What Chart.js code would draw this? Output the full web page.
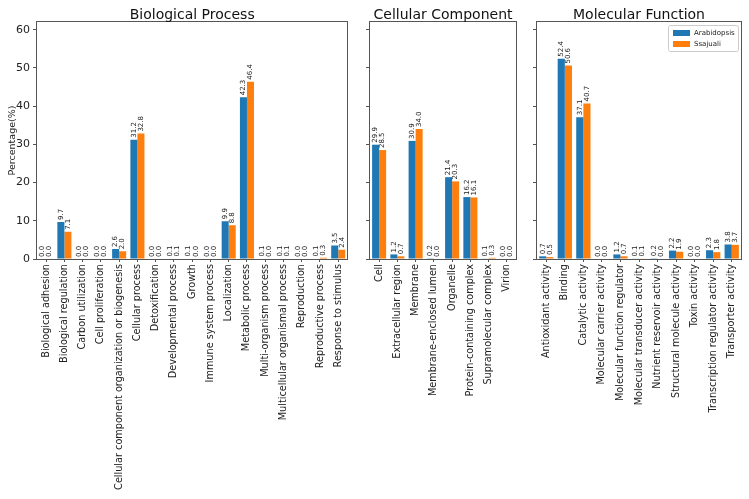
<!DOCTYPE html>
<html>
<head>
<meta charset="utf-8">
<script src="https://cdn.jsdelivr.net/npm/chart.js@4.4.0/dist/chart.umd.min.js"></script>
<style>
  body { margin: 0; background: #fff; }
  #wrap { position: relative; width: 749px; height: 499px; }
  canvas { position: absolute; top: 0; }
</style>
</head>
<body>
<div id="wrap">
  <canvas id="bpChart" width="352" height="499" style="left:0"></canvas>
  <canvas id="ccChart" width="160" height="499" style="left:362px"></canvas>
  <canvas id="mfChart" width="220" height="499" style="left:529px"></canvas>
</div>
<script>
const seriesNames = ['Arabidopsis', 'Ssajuali'];
const yTicks = [0, 10, 20, 30, 40, 50, 60];

const bpLabels = ['Biological adhesion', 'Biological regulation', 'Carbon utilization', 'Cell proliferation',
  'Cellular component organization or biogenesis', 'Cellular process', 'Detoxification', 'Developmental process',
  'Growth', 'Immune system process', 'Localization', 'Metabolic process', 'Multi-organism process',
  'Multicellular organismal process', 'Reproduction', 'Reproductive process', 'Response to stimulus'];
const bpArabidopsis = [0.0, 9.7, 0.0, 0.0, 2.6, 31.2, 0.0, 0.1, 0.1, 0.0, 9.9, 42.3, 0.1, 0.1, 0.0, 0.1, 3.5];
const bpSsajuali = [0.0, 7.1, 0.0, 0.0, 2.0, 32.8, 0.0, 0.1, 0.0, 0.0, 8.8, 46.4, 0.0, 0.1, 0.0, 0.3, 2.4];

const ccLabels = ['Cell', 'Extracellular region', 'Membrane', 'Membrane-enclosed lumen', 'Organelle',
  'Protein-containing complex', 'Supramolecular complex', 'Virion'];
const ccArabidopsis = [29.9, 1.2, 30.9, 0.2, 21.4, 16.2, 0.1, 0.0];
const ccSsajuali = [28.5, 0.7, 34.0, 0.0, 20.3, 16.1, 0.3, 0.0];

const mfLabels = ['Antioxidant activity', 'Binding', 'Catalytic activity', 'Molecular carrier activity',
  'Molecular function regulator', 'Molecular transducer activity', 'Nutrient reservoir activity',
  'Structural molecule activity', 'Toxin activity', 'Transcription regulator activity', 'Transporter activity'];
const mfArabidopsis = [0.7, 52.4, 37.1, 0.0, 1.2, 0.1, 0.2, 2.2, 0.0, 2.3, 3.8];
const mfSsajuali = [0.5, 50.6, 40.7, 0.0, 0.7, 0.1, 0.0, 1.9, 0.0, 1.8, 3.7];

const colors = ['#1f77b4', '#ff7f0e'];
const FONT = '"DejaVu Sans", sans-serif';

// frame, title, value labels and legend, drawn matplotlib style
const panelDecor = {
    id: 'panelDecor',
    afterDatasetsDraw(chart, args, opts) {
        const ctx = chart.ctx;
        const area = chart.chartArea;
        ctx.save();

        ctx.font = '7px ' + FONT;
        ctx.fillStyle = '#222';
        ctx.textAlign = 'left';
        ctx.textBaseline = 'middle';
        chart.data.datasets.forEach((ds, i) => {
            chart.getDatasetMeta(i).data.forEach((bar, j) => {
                ctx.save();
                ctx.translate(bar.x, bar.y - 2);
                ctx.rotate(-Math.PI / 2);
                ctx.fillText(ds.data[j].toFixed(1), 0, 0);
                ctx.restore();
            });
        });

        ctx.strokeStyle = '#555';
        ctx.lineWidth = 1;
        ctx.strokeRect(Math.round(area.left) - 0.5, Math.round(area.top) - 0.5,
            Math.round(area.right - area.left) + 1, Math.round(area.bottom - area.top) + 1);

        ctx.font = '14px ' + FONT;
        ctx.fillStyle = '#111';
        ctx.textAlign = 'center';
        ctx.textBaseline = 'alphabetic';
        ctx.fillText(opts.title, (area.left + area.right) / 2, 19);

        if (opts.legend) {
            const lx = area.right - 73, ly = area.top + 3;
            ctx.fillStyle = 'rgba(255,255,255,0.8)';
            ctx.strokeStyle = '#ccc';
            ctx.beginPath();
            ctx.roundRect(lx + 0.5, ly + 0.5, 70, 26, 2);
            ctx.fill();
            ctx.stroke();
            ctx.font = '7px ' + FONT;
            ctx.textAlign = 'left';
            ctx.textBaseline = 'middle';
            seriesNames.forEach((name, i) => {
                const y = ly + 8 + i * 11;
                ctx.fillStyle = colors[i];
                ctx.fillRect(lx + 5, y - 3, 17, 6);
                ctx.fillStyle = '#222';
                ctx.fillText(name, lx + 26, y);
            });
        }
        ctx.restore();
    }
};

function makePanel(id, title, labels, arab, ssaj, cfg) {
    const ctx = document.getElementById(id);
    return new Chart(ctx, {
        type: 'bar',
        data: {
            labels: labels,
            datasets: [
                { label: seriesNames[0], data: arab, backgroundColor: colors[0] },
                { label: seriesNames[1], data: ssaj, backgroundColor: colors[1] }
            ]
        },
        options: {
            responsive: false,
            animation: false,
            categoryPercentage: 0.77,
            barPercentage: 1.0,
            layout: { padding: { top: 22, left: 0, right: cfg.padRight, bottom: 0 } },
            plugins: {
                legend: { display: false },
                tooltip: { enabled: false },
                panelDecor: { title: title, legend: cfg.legend }
            },
            scales: {
                x: {
                    offset: true,
                    border: { display: false },
                    grid: { offset: false, drawOnChartArea: false, drawTicks: true, tickLength: 3, color: '#555' },
                    ticks: {
                        autoSkip: false, minRotation: 90, maxRotation: 90, padding: 2,
                        color: '#222', font: { family: FONT, size: 9.7 }
                    },
                    afterFit: function (scale) { scale.height = 240; }
                },
                y: {
                    min: 0,
                    max: 62,
                    border: { display: false },
                    grid: { drawOnChartArea: false, drawTicks: true, tickLength: 4, color: '#555' },
                    afterBuildTicks: function (scale) {
                        scale.ticks = yTicks.map(v => ({ value: v }));
                    },
                    ticks: {
                        display: cfg.showY, padding: 3,
                        color: '#222', font: { family: FONT, size: 11 }
                    },
                    title: {
                        display: cfg.showY, text: 'Percentage(%)',
                        color: '#222', font: { family: FONT, size: 9.5 }, padding: { top: 7, bottom: 0 }
                    },
                    afterFit: function (scale) { scale.width = cfg.yWidth; }
                }
            }
        },
        plugins: [panelDecor]
    });
}

document.addEventListener("DOMContentLoaded", function () {
    makePanel('bpChart', 'Biological Process', bpLabels, bpArabidopsis, bpSsajuali,
        { showY: true, legend: false, yWidth: 37, padRight: 4 });
    makePanel('ccChart', 'Cellular Component', ccLabels, ccArabidopsis, ccSsajuali,
        { showY: false, legend: false, yWidth: 8, padRight: 6 });
    makePanel('mfChart', 'Molecular Function', mfLabels, mfArabidopsis, mfSsajuali,
        { showY: false, legend: true, yWidth: 8, padRight: 8 });
});
</script>
</body>
</html>
